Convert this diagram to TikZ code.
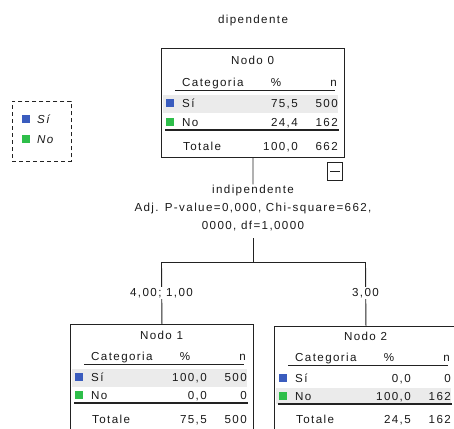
\documentclass[tikz,border=0pt]{standalone}
\usepackage{fontspec}
\newfontfamily\spss[LetterSpace=12]{Liberation Sans}
\definecolor{spblue}{HTML}{3A5CBE}
\definecolor{spgreen}{HTML}{2EBE4A}
\definecolor{spgray}{HTML}{EBEBEB}
\definecolor{spline}{HTML}{222222}
\begin{document}
\begin{tikzpicture}[x=1pt,y=-1pt,
  txt/.style={font=\spss\fontsize{11.6}{13}\selectfont, inner sep=0pt, text=black!90},
  itxt/.style={font=\spss\itshape\fontsize{11.6}{13}\selectfont, inner sep=0pt, text=black!90},
  treebox/.style={draw=spline, line width=0.9pt, rectangle, anchor=north west,
    minimum width=183pt, minimum height=109pt, inner sep=0pt},
  conn/.style={draw=spline, line width=0.9pt},
  rule/.style={draw=spline, line width=0.7pt},
  dblrule/.style={draw=spline, line width=1.4pt},
  sq/.style={inner sep=0pt, minimum size=8pt, anchor=center},
  lbl/.style={font=\spss\fontsize{11.6}{13}\selectfont, inner sep=1pt, fill=white, text=black!90}]
\useasboundingbox (0,0) rectangle (454,428);
\clip (0,0) rectangle (454,428);

% title
\node[txt, anchor=base] (title) at (253,24) {dipendente};

% legend
\node[draw=spline, line width=0.8pt, dash pattern=on 4pt off 3pt, anchor=north west,
  minimum width=59pt, minimum height=60pt, inner sep=0pt] (leg) at (12,101) {};
\node[sq, fill=spblue] (legb) at (26,119) {};
\node[itxt, anchor=base west] (legsi) at (37,123) {Sí};
\node[sq, fill=spgreen] (legg) at (26,139) {};
\node[itxt, anchor=base west] (legno) at (37,143) {No};

% ---------- Nodo 0 ----------
\begin{scope}[shift={(161,48)}]
  \fill[spgray] (2,47) rectangle (177,65);
  \node[txt, anchor=base] (n0h) at (91.5,16) {Nodo 0};
  \node[txt, anchor=base west] (n0c) at (21,38) {Categoria};
  \node[txt, anchor=base] (n0p) at (115,38) {\%};
  \node[txt, anchor=base east] (n0n) at (176,38) {n};
  \draw[rule] (14,42) -- (174,42);
  \node[sq, fill=spblue] (n0bs) at (8.5,55) {};
  \node[txt, anchor=base west] (n0sl) at (21,59) {Sí};
  \node[txt, anchor=base east] (n0sp) at (137,59) {75,5};
  \node[txt, anchor=base east] (n0sn) at (177,59) {500};
  \node[sq, fill=spgreen] (n0gs) at (8.5,74) {};
  \node[txt, anchor=base west] (n0nl) at (21,78) {No};
  \node[txt, anchor=base east] (n0np) at (137,78) {24,4};
  \node[txt, anchor=base east] (n0nn) at (177,78) {162};
  \draw[dblrule] (4,82) -- (178,82);
  \node[txt, anchor=base west] (n0tl) at (22,102) {Totale};
  \node[txt, anchor=base east] (n0tp) at (137,102) {100,0};
  \node[txt, anchor=base east] (n0tn) at (177,102) {662};
\end{scope}
\node[treebox] (n0) at (161,48) {};

% collapse box
\node[draw=spline, line width=0.9pt, anchor=north west, minimum width=15pt,
  minimum height=18pt, inner sep=0pt] (mb) at (327,162) {};
\draw[spline, line width=0.9pt] ([xshift=3pt]mb.west) -- ([xshift=-3pt]mb.east);

% split text
\node[txt, anchor=base] (ind1) at (253,193) {indipendente};
\node[txt, anchor=base] (ind2) at (253,211) {Adj. P-value=0,000, Chi-square=662,};
\node[txt, anchor=base] (ind3) at (253,229) {0000, df=1,0000};

\coordinate (st) at (253,238);
\coordinate (sp) at (253,262);
\coordinate (sL) at (161.5,262);
\coordinate (sR) at (365.5,262);

% ---------- Nodo 1 ----------
\begin{scope}[shift={(70,324)}]
  \fill[spgray] (2,45) rectangle (177,63);
  \node[txt, anchor=base] (n1h) at (91.5,15) {Nodo 1};
  \node[txt, anchor=base west] (n1c) at (21,36) {Categoria};
  \node[txt, anchor=base] (n1p) at (115,36) {\%};
  \node[txt, anchor=base east] (n1n) at (176,36) {n};
  \draw[rule] (14,40) -- (174,40);
  \node[sq, fill=spblue] (n1bs) at (8.5,53) {};
  \node[txt, anchor=base west] (n1sl) at (21,57) {Sí};
  \node[txt, anchor=base east] (n1sp) at (137,57) {100,0};
  \node[txt, anchor=base east] (n1sn) at (177,57) {500};
  \node[sq, fill=spgreen] (n1gs) at (8.5,71) {};
  \node[txt, anchor=base west] (n1nl) at (21,75) {No};
  \node[txt, anchor=base east] (n1np) at (137,75) {0,0};
  \node[txt, anchor=base east] (n1nn) at (177,75) {0};
  \draw[dblrule] (4,79) -- (178,79);
  \node[txt, anchor=base west] (n1tl) at (22,99) {Totale};
  \node[txt, anchor=base east] (n1tp) at (137,99) {75,5};
  \node[txt, anchor=base east] (n1tn) at (177,99) {500};
\end{scope}
\node[treebox] (n1) at (70,324) {};

% ---------- Nodo 2 ----------
\begin{scope}[shift={(274,326)}]
  \fill[spgray] (2,62) rectangle (177,78);
  \node[txt, anchor=base] (n2h) at (91.5,14) {Nodo 2};
  \node[txt, anchor=base west] (n2c) at (21,35) {Categoria};
  \node[txt, anchor=base] (n2p) at (115,35) {\%};
  \node[txt, anchor=base east] (n2n) at (176,35) {n};
  \draw[rule] (14,39) -- (174,39);
  \node[sq, fill=spblue] (n2bs) at (8.5,52) {};
  \node[txt, anchor=base west] (n2sl) at (21,56) {Sí};
  \node[txt, anchor=base east] (n2sp) at (137,56) {0,0};
  \node[txt, anchor=base east] (n2sn) at (177,56) {0};
  \node[sq, fill=spgreen] (n2gs) at (8.5,70) {};
  \node[txt, anchor=base west] (n2nl) at (21,74) {No};
  \node[txt, anchor=base east] (n2np) at (137,74) {100,0};
  \node[txt, anchor=base east] (n2nn) at (177,74) {162};
  \draw[dblrule] (4,78) -- (178,78);
  \node[txt, anchor=base west] (n2tl) at (22,97) {Totale};
  \node[txt, anchor=base east] (n2tp) at (137,97) {24,5};
  \node[txt, anchor=base east] (n2tn) at (177,97) {162};
\end{scope}
\node[treebox] (n2) at (274,326) {};

% connectors
\draw[conn] (n0.south) -- (ind1.north);
\draw[conn] (st) -- (sp);
\draw[conn] (sL) -- (sR);
\draw[conn] (sL) -- (n1.north);
\draw[conn] (sR) -- (n2.north);

% edge labels
\node[lbl] (l1) at (161.5,293) {4,00; 1,00};
\node[lbl] (l2) at (365.5,293) {3,00};
\end{tikzpicture}
\end{document}
